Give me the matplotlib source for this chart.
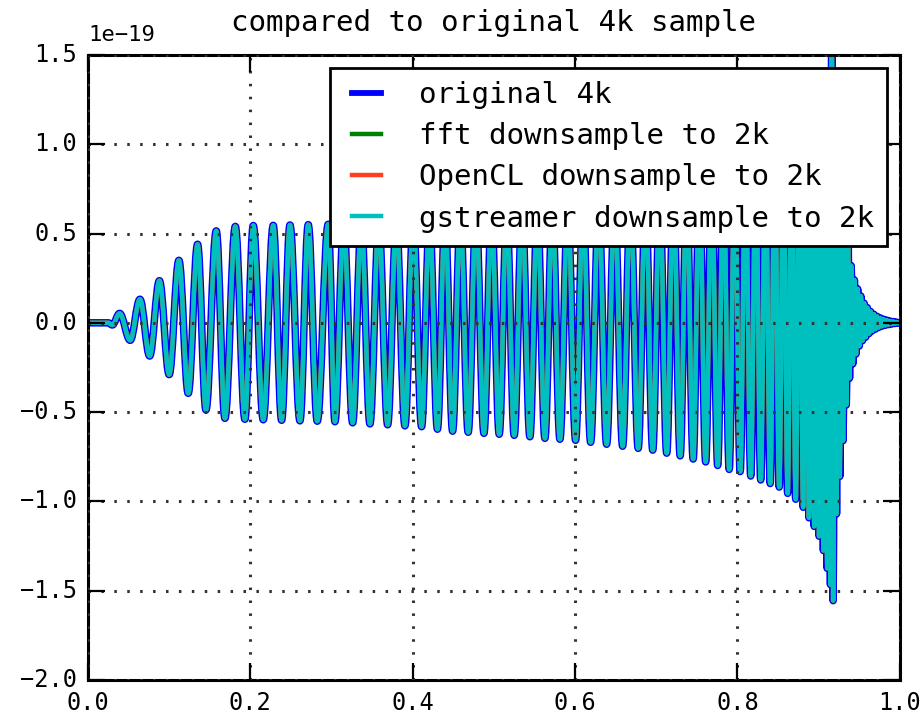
import numpy as np
import matplotlib
matplotlib.use("Agg")
import matplotlib.pyplot as plt
from matplotlib.path import Path
from matplotlib.patches import PathPatch
from matplotlib.lines import Line2D

SCALE = 1e-19

# extrema of the waveform, in units of 1e-19
# onset and growing part
t_early = [0.000, 0.025, 0.030, 0.039, 0.052, 0.064, 0.076, 0.088, 0.100, 0.112,
           0.1235, 0.135, 0.1453, 0.158, 0.1687, 0.1815, 0.1933, 0.2036, 0.2159,
           0.2282, 0.2385, 0.2488, 0.2611, 0.2713, 0.2824, 0.2959, 0.3042]
h_early = [0.000, 0.000, -0.012, 0.053, -0.098, 0.132, -0.186, 0.236, -0.290, 0.350,
           -0.395, 0.440, -0.488, 0.515, -0.535, 0.540, -0.540, 0.545, -0.543,
           0.546, -0.546, 0.548, -0.549, 0.550, -0.551, 0.552, -0.554]

# middle of the inspiral (peaks hidden by the legend)
t_mid = [0.3150, 0.3260, 0.3367, 0.3473, 0.3582, 0.3691, 0.3798, 0.3904, 0.4007, 0.4109,
         0.4207, 0.4304, 0.4398, 0.4491, 0.4587, 0.4683, 0.4780, 0.4877, 0.4971, 0.5065,
         0.5158, 0.5250, 0.5347, 0.5443, 0.5535, 0.5628, 0.5720, 0.5813, 0.5910, 0.6006,
         0.6098, 0.6191, 0.6290, 0.6388, 0.6487, 0.6585, 0.6681, 0.6777]
h_mid = [0.556, -0.560, 0.562, -0.566, 0.568, -0.571, 0.574, -0.577, 0.580, -0.582,
         0.588, -0.596, 0.600, -0.607, 0.610, -0.613, 0.616, -0.619, 0.622, -0.624,
         0.627, -0.630, 0.634, -0.638, 0.642, -0.647, 0.650, -0.652, 0.655, -0.658,
         0.663, -0.669, 0.674, -0.680, 0.685, -0.691, 0.697, -0.703]

# late inspiral up to the merger
t_late = [0.6867, 0.6956, 0.7042, 0.7128, 0.7211, 0.7294, 0.7374, 0.7454, 0.7531, 0.7608,
          0.7682, 0.7756, 0.7827, 0.7898, 0.7966, 0.8033, 0.8098, 0.8163, 0.8225, 0.8286,
          0.8345, 0.8403, 0.8459, 0.8514, 0.8566, 0.8618, 0.8668, 0.8717, 0.8763, 0.8809,
          0.8845, 0.8880, 0.8913, 0.8945, 0.8975, 0.9005, 0.9032, 0.9058, 0.9082, 0.9105,
          0.9125, 0.9145, 0.9161, 0.9178]
h_late = [0.708, -0.713, 0.722, -0.730, 0.738, -0.745, 0.754, -0.763, 0.771, -0.779,
          0.789, -0.799, 0.810, -0.821, 0.827, -0.833, 0.845, -0.858, 0.869, -0.880,
          0.890, -0.900, 0.910, -0.920, 0.937, -0.955, 0.971, -0.988, 1.010, -1.033,
          1.060, -1.092, 1.110, -1.140, 1.170, -1.195, 1.240, -1.275, 1.300, -1.375,
          1.360, -1.466, 1.750, -1.556]

# ringdown
t_ring = [0.920, 0.922, 0.924, 0.926, 0.928, 0.930, 0.932, 0.934, 0.936, 0.938,
          0.940, 0.942, 0.944, 0.946, 0.948, 0.950, 0.952, 0.954, 0.956, 0.958,
          0.960, 0.962, 0.964, 0.966, 0.968, 0.970, 0.972, 0.974, 0.976, 0.978,
          0.980, 0.982, 0.984, 0.986, 0.988, 0.990, 0.992, 0.994, 0.996, 0.998, 1.000]
h_ring = [1.30, -1.07, 1.05, -0.86, 0.84, -0.66, 0.66, -0.46, 0.52, -0.31,
          0.32, -0.23, 0.24, -0.175, 0.19, -0.13, 0.15, -0.10, 0.11, -0.08,
          0.085, -0.06, 0.063, -0.045, 0.048, -0.035, 0.036, -0.026, 0.027, -0.019,
          0.020, -0.014, 0.015, -0.010, 0.010, -0.007, 0.007, -0.004, 0.004, -0.002, 0.000]

labels = ["original 4k", "fft downsample to 2k",
          "OpenCL downsample to 2k", "gstreamer downsample to 2k"]
colors = ["#0000ff", "#008000", "#ff4020", "#00bfbf"]
widths = [5.4, 3.2, 3.2, 3.2]

t = np.concatenate([t_early, t_mid, t_late, t_ring])
h = np.concatenate([h_early, h_mid, h_late, h_ring]) * SCALE


def smooth_path(x, y, k=0.3642):
    # cubic segments between neighbouring extrema, flat tangent at each extremum
    verts = [(x[0], y[0])]
    codes = [Path.MOVETO]
    for i in range(len(x) - 1):
        dx = x[i + 1] - x[i]
        verts += [(x[i] + k * dx, y[i]), (x[i + 1] - k * dx, y[i + 1]), (x[i + 1], y[i + 1])]
        codes += [Path.CURVE4] * 3
    return Path(verts, codes)


plt.style.use("classic")
plt.rcParams["font.family"] = "DejaVu Sans Mono"
plt.rcParams["figure.facecolor"] = "white"
plt.rcParams["savefig.facecolor"] = "white"

fig = plt.figure(figsize=(9.22, 7.23), dpi=100)
ax = fig.add_axes([0.0954, 0.0595, 0.8806, 0.8645])

wave = smooth_path(t, h)
handles = []
for lab, col, lw in zip(labels, colors, widths):
    ax.add_patch(PathPatch(wave, fill=False, edgecolor=col, lw=lw,
                           joinstyle="round", capstyle="round"))
    handles.append(Line2D([], [], color=col, lw=min(lw, 4.2), label=lab))

ax.set_xlim(0, 1)
ax.set_ylim(-2.0e-19, 1.5e-19)
ax.set_xticks(np.arange(0, 1.01, 0.2))
ax.set_yticks(np.arange(-2.0e-19, 1.51e-19, 0.5e-19))
ax.grid(True, color="#333333", linestyle=(0, (1.8, 7.5)), linewidth=2.2)
ax.tick_params(labelsize=17, length=12, width=1.6, direction="in", pad=8)
for s in ax.spines.values():
    s.set_linewidth(2.2)
ax.yaxis.OFFSETTEXTPAD = 10
ax.yaxis.get_offset_text().set_fontsize(16)
ax.set_title("compared to original 4k sample", fontsize=21, pad=17)

leg = ax.legend(handles=handles, loc="upper right", fontsize=21, handlelength=1.6,
                handletextpad=1.0, labelspacing=0.45, borderpad=0.45, borderaxespad=0.45,
                fancybox=False, framealpha=1.0)
leg.get_frame().set_edgecolor("black")
leg.get_frame().set_linewidth(2.0)

fig.savefig("out.png", dpi=100)
